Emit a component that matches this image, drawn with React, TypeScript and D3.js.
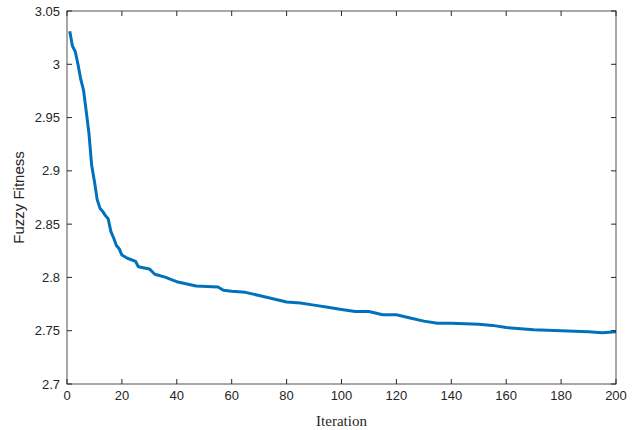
import React from "react";
import * as d3 from "d3";

const iters = [1,2,3,4,5,6,7,8,9,10,11,12,13,14,15,16,17,18,19,20,22,25,26,30,32,36,38,40,47,55,57,60,65,70,75,80,85,90,95,100,105,110,115,120,125,130,135,140,150,155,160,170,180,190,195,200];
const fitness = [3.031,3.017,3.012,3.0,2.986,2.976,2.956,2.935,2.905,2.89,2.873,2.865,2.862,2.858,2.855,2.843,2.837,2.83,2.827,2.821,2.818,2.815,2.81,2.808,2.803,2.8,2.798,2.796,2.792,2.791,2.788,2.787,2.786,2.783,2.78,2.777,2.776,2.774,2.772,2.77,2.768,2.768,2.765,2.765,2.762,2.759,2.757,2.757,2.756,2.755,2.753,2.751,2.75,2.749,2.748,2.749];
const xTicks = [0,20,40,60,80,100,120,140,160,180,200];
const yTicks = [2.7,2.75,2.8,2.85,2.9,2.95,3,3.05];

export default function App() {
  const W = 633, H = 430;
  const L = 67, R = 616, T = 11, B = 384;
  const x = d3.scaleLinear().domain([0, 200]).range([L, R]);
  const y = d3.scaleLinear().domain([2.7, 3.05]).range([B, T]);
  const line = d3.line<number>().x((_, i) => x(iters[i])).y(d => y(d)).curve(d3.curveLinear);
  const font = "Arial, 'Liberation Sans', sans-serif";
  return (
    <svg width={W} height={H} style={{ position: "absolute", left: 0, top: 0 }}>
      <rect x={0} y={0} width={W} height={H} fill="#fff" />
      <path d={line(fitness) || ""} fill="none" stroke="#0072BD" strokeWidth={3} strokeLinejoin="round" />
      <rect x={L} y={T} width={R - L} height={B - T} fill="none" stroke="#262626" strokeWidth={0.8} />
      {xTicks.map(t => (
        <g key={t}>
          <line x1={x(t)} x2={x(t)} y1={B} y2={B - 5} stroke="#262626" />
          <line x1={x(t)} x2={x(t)} y1={T} y2={T + 5} stroke="#262626" />
          <text x={x(t)} y={B + 16} textAnchor="middle" fontSize={13} fontFamily={font} fill="#262626">{t}</text>
        </g>
      ))}
      {yTicks.map(t => (
        <g key={t}>
          <line x1={L} x2={L + 5} y1={y(t)} y2={y(t)} stroke="#262626" />
          <line x1={R} x2={R - 5} y1={y(t)} y2={y(t)} stroke="#262626" />
          <text x={L - 7} y={y(t) + 4.5} textAnchor="end" fontSize={13} fontFamily={font} fill="#262626">{String(t)}</text>
        </g>
      ))}
      <text x={(L + R) / 2} y={426} textAnchor="middle" fontSize={15} fontFamily="'Liberation Serif', 'Times New Roman', serif" fill="#262626">Iteration</text>
      <text transform={`translate(24,${(T + B) / 2}) rotate(-90)`} textAnchor="middle" fontSize={15} fontFamily={font} fill="#262626">Fuzzy Fitness</text>
    </svg>
  );
}
